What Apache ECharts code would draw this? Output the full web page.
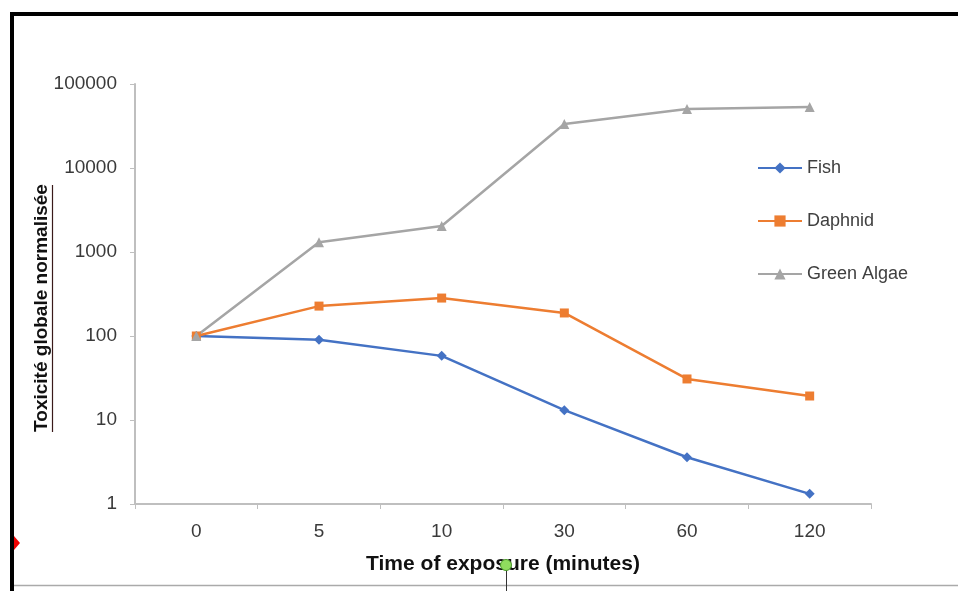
<!DOCTYPE html>
<html>
<head>
<meta charset="utf-8">
<script src="https://cdn.jsdelivr.net/npm/echarts@6/dist/echarts.min.js"></script>
<style>
html,body{margin:0;padding:0;background:#fff;}
#chart{width:958px;height:591px;}
</style>
</head>
<body>
<div id="chart"></div>
<script>
var times = ['0', '5', '10', '30', '60', '120'];
var fish = [100, 90, 58, 13.1, 3.6, 1.32];
var daphnid = [100, 227, 283, 188, 30.8, 19.3];
var greenAlgae = [100, 1310, 2040, 33400, 50300, 53200];

var chart = echarts.init(document.getElementById('chart'));
var labelFont = 'Liberation Sans';

var option = {
	backgroundColor: '#fff',
	animation: false,
	grid: {
		left: 135,
		right: 87,
		top: 84,
		bottom: 87
	},
	legend: {
		orient: 'vertical',
		left: 752,
		top: 154,
		itemGap: 35,
		itemWidth: 44,
		itemHeight: 14,
		textStyle: {fontFamily: labelFont, fontSize: 18, color: '#404040'},
		data: ['Fish', 'Daphnid', 'Green Algae']
	},
	xAxis: {
		type: 'category',
		data: times,
		boundaryGap: true,
		name: 'Time of exposure (minutes)',
		nameLocation: 'middle',
		nameGap: 50,
		nameTextStyle: {fontFamily: labelFont, fontSize: 21, fontWeight: 'bold', color: '#111'},
		axisLine: {lineStyle: {color: '#bfbfbf', width: 2}},
		axisTick: {show: true, length: 5, lineStyle: {color: '#bfbfbf', width: 1}},
		axisLabel: {fontFamily: labelFont, fontSize: 19, color: '#3a3a3a', margin: 18},
		splitLine: {show: false}
	},
	yAxis: {
		type: 'log',
		logBase: 10,
		min: 1,
		max: 100000,
		axisLine: {show: true, lineStyle: {color: '#bfbfbf', width: 2}},
		axisTick: {show: true, length: 5, lineStyle: {color: '#bfbfbf'}},
		axisLabel: {
			fontFamily: labelFont, fontSize: 19, color: '#3a3a3a', margin: 18,
			formatter: function (v) { return String(Math.round(v)); }
		},
		splitLine: {show: false}
	},
	series: [
		{
			name: 'Fish',
			type: 'line',
			data: fish,
			symbol: 'diamond',
			symbolSize: 10,
			itemStyle: {color: '#4472c4'},
			lineStyle: {width: 2.5, color: '#4472c4'}
		},
		{
			name: 'Daphnid',
			type: 'line',
			data: daphnid,
			symbol: 'rect',
			symbolSize: 9,
			itemStyle: {color: '#ed7d31'},
			lineStyle: {width: 2.5, color: '#ed7d31'}
		},
		{
			name: 'Green Algae',
			type: 'line',
			data: greenAlgae,
			symbol: 'triangle',
			symbolSize: 10,
			itemStyle: {color: '#a5a5a5'},
			lineStyle: {width: 2.5, color: '#a5a5a5'}
		}
	],
	graphic: [
		// frame lines of the screenshot
		{type: 'rect', z: 100, shape: {x: 10, y: 12, width: 948, height: 4}, style: {fill: '#000'}, silent: true},
		{type: 'rect', z: 100, shape: {x: 10, y: 12, width: 4, height: 579}, style: {fill: '#000'}, silent: true},
		{type: 'line', z: 100, shape: {x1: 14, y1: 585.5, x2: 958, y2: 585.5}, style: {stroke: '#aaa', lineWidth: 1.5}, silent: true},
		// y axis title, underlined
		{
			type: 'text', x: 42, y: 308, rotation: Math.PI / 2,
			style: {text: 'Toxicité globale normalisée', fontFamily: labelFont, fontSize: 19, fontWeight: 'bold',
				fill: '#111', align: 'center', verticalAlign: 'middle'}
		},
		{type: 'line', shape: {x1: 52.5, y1: 185, x2: 52.5, y2: 432}, style: {stroke: '#3a1a1a', lineWidth: 1.2}, silent: true},
		// selection handle marks
		{type: 'line', z: 100, shape: {x1: 506.5, y1: 570, x2: 506.5, y2: 591}, style: {stroke: '#333', lineWidth: 1}, silent: true},
		{type: 'circle', z: 101, shape: {cx: 506, cy: 565, r: 5.5}, style: {fill: '#8fdc5e', stroke: '#4a9a2a', lineWidth: 1}, silent: true},
		{type: 'polygon', z: 100, shape: {points: [[14, 536], [20, 543], [14, 550]]}, style: {fill: '#e00'}, silent: true}
	]
};
chart.setOption(option);
</script>
</body>
</html>
